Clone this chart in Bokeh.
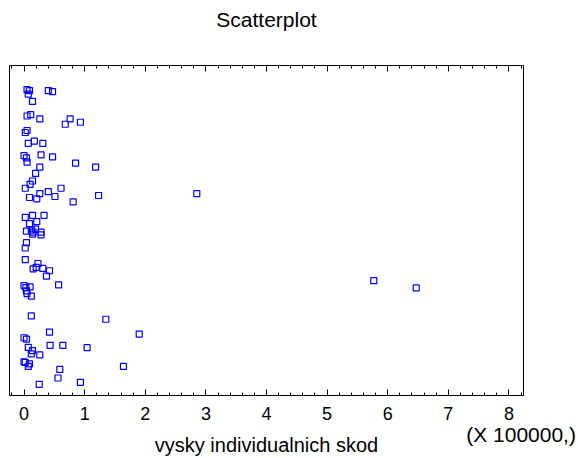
from bokeh.plotting import figure
from bokeh.models import (LinearAxis, SingleIntervalTicker, FixedTicker, Range1d, ColumnDataSource,
                          CustomLabelingPolicy, CustomJSTickFormatter)
from bokeh.embed import file_html
from bokeh.resources import INLINE

# damage amounts in units of 100000
skody = [0.05, 0.09, 0.07, 0.40, 0.47, 0.14, 0.05, 0.11, 0.26, 0.76, 0.68, 0.93,
         0.05, 0.02, 0.07, 0.17, 0.31, 0.00, 0.04, 0.05, 0.28, 0.47, 0.85, 1.18,
         0.26, 0.19, 0.14, 0.10, 0.02, 0.61, 0.40, 0.26, 0.51, 0.09, 0.21, 1.23,
         0.81, 0.02, 0.14, 0.33, 0.21, 0.09, 0.04, 0.12, 0.15, 0.19, 0.14, 0.28,
         0.28, 0.04, 0.02, 0.02, 0.23, 0.20, 0.15, 0.31, 0.42, 0.37, 0.00, 0.03,
         0.10, 0.04, 0.05, 0.12, 0.57, 0.12, 1.35, 0.42, 0.00, 0.04, 1.90, 0.07,
         0.14, 0.12, 0.26, 0.43, 0.64, 1.04, 0.00, 0.02, 0.09, 0.07, 0.59, 1.64,
         0.56, 0.93, 0.25, 2.85, 5.77, 6.47]
# vertical jitter (0-100)
jitter = [92.7, 92.4, 91.3, 92.4, 92.1, 89.1, 84.7, 85.1, 83.8, 83.8, 82.2, 82.8,
          80.3, 79.7, 76.4, 77.1, 76.4, 72.7, 72.0, 70.7, 72.9, 72.3, 70.4, 69.2,
          69.2, 67.3, 65.0, 64.0, 62.8, 62.8, 61.8, 61.2, 60.3, 60.0, 59.6, 60.6,
          58.7, 54.0, 54.6, 54.6, 52.7, 52.1, 49.8, 50.1, 49.5, 50.4, 48.9, 49.5,
          48.7, 46.3, 44.7, 41.2, 40.0, 38.8, 38.4, 38.5, 37.8, 36.2, 33.3, 32.7,
          32.9, 31.7, 30.9, 30.1, 33.5, 24.1, 23.1, 19.2, 17.5, 17.1, 18.6, 14.6,
          13.6, 12.6, 12.3, 15.2, 15.2, 14.5, 10.2, 10.0, 9.6, 8.8, 7.9, 8.8,
          5.3, 4.0, 3.4, 61.2, 34.8, 32.6]

title_text = "Scatterplot"
x_label = "vysky individualnich skod"
scale_text = "(X 100000,)"
scale_pos = [8.2]

FONT = "Liberation Sans"

p = figure(width=578, height=458, output_backend="svg", toolbar_location=None,
           x_range=Range1d(-0.24, 8.24), y_range=Range1d(0, 100),
           x_axis_location=None, y_axis_location=None,
           min_border_left=9, min_border_right=55, min_border_top=65, min_border_bottom=62)
p.grid.visible = False
p.outline_line_color = "black"
p.outline_line_width = 1
p.background_fill_color = "white"
p.border_fill_color = "white"

p.title.text = title_text
p.title.align = "center"
p.title.text_font = FONT
p.title.text_font_size = "21px"
p.title.text_font_style = "normal"
p.title.text_color = "black"
p.title.standoff = 10

def tick_axis(labels):
    ax = LinearAxis(ticker=SingleIntervalTicker(interval=1, num_minor_ticks=5))
    ax.axis_line_color = None
    ax.major_tick_in = 6
    ax.major_tick_out = 0
    ax.minor_tick_in = 3
    ax.minor_tick_out = 0
    ax.major_tick_line_color = "black"
    ax.minor_tick_line_color = "black"
    if labels:
        ax.major_label_text_font = FONT
        ax.major_label_text_font_size = "18px"
        ax.major_label_text_color = "black"
        ax.major_label_standoff = 11
    else:
        ax.major_label_policy = CustomLabelingPolicy(code="return []")
        ax.major_label_text_font_size = "1px"
        ax.major_label_standoff = 26
    return ax

p.add_layout(tick_axis(True), "below")
p.add_layout(tick_axis(False), "above")

# second bottom axis: scale note and axis title
ax2 = LinearAxis(ticker=FixedTicker(ticks=scale_pos),
                 formatter=CustomJSTickFormatter(code="return %r" % scale_text))
ax2.axis_line_color = None
ax2.major_tick_line_color = None
ax2.minor_tick_line_color = None
ax2.major_tick_in = 0
ax2.major_tick_out = 0
ax2.major_label_text_font = FONT
ax2.major_label_text_font_size = "21px"
ax2.major_label_text_color = "black"
ax2.major_label_standoff = 0
ax2.axis_label = x_label
ax2.axis_label_text_font = FONT
ax2.axis_label_text_font_size = "20px"
ax2.axis_label_text_font_style = "normal"
ax2.axis_label_text_color = "black"
ax2.axis_label_standoff = -15
p.add_layout(ax2, "below")

src = ColumnDataSource(dict(x=skody, y=jitter))
p.scatter("x", "y", source=src, marker="square", size=6, line_color="#0000ff",
          line_width=1.2, fill_color=None)

open("out.html", "w").write(file_html(p, INLINE))
